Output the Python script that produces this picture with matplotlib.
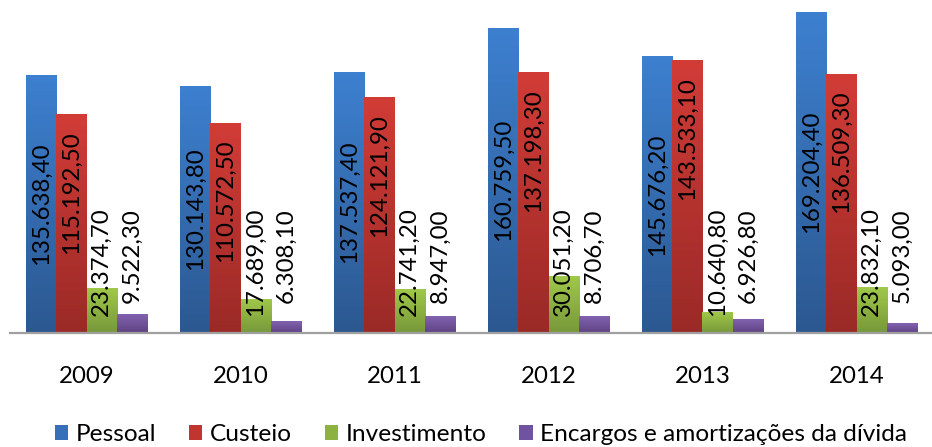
import numpy as np
import matplotlib
matplotlib.use('Agg')
import matplotlib.pyplot as plt
from matplotlib.colors import LinearSegmentedColormap
from matplotlib.patches import Patch

anos = ['2009', '2010', '2011', '2012', '2013', '2014']
pessoal = [135638.40, 130143.80, 137537.40, 160759.50, 145676.20, 169204.40]
custeio = [115192.50, 110572.50, 124121.90, 137198.30, 143533.10, 136509.30]
investimento = [23374.70, 17689.00, 22741.20, 30051.20, 10640.80, 23832.10]
encargos = [9522.30, 6308.10, 8947.00, 8706.70, 6926.80, 5093.00]
nomes = ['Pessoal', 'Custeio', 'Investimento', 'Encargos e amortizações da dívida']

# (cor do topo, cor da base) de cada serie
cores = [('#3D80D0', '#2C5890'),
         ('#D23C37', '#9A2A27'),
         ('#A0C84A', '#77983A'),
         ('#8262B0', '#5E4382')]
cor_legenda = ['#3670B8', '#C1352F', '#8DB240', '#7053A0']

plt.rcParams['font.family'] = ['Lato', 'DejaVu Sans']
fs = 17.3


def formata(v):
    s = '{:,.2f}'.format(v)
    return s.replace(',', 'X').replace('.', ',').replace('X', '.')


fig = plt.figure(figsize=(9.32, 4.47), dpi=100)
ax = fig.add_axes([9.5 / 932, 114.5 / 447, 924 / 932, 0.742])

series = [pessoal, custeio, investimento, encargos]
x = np.arange(len(anos))
w = 0.197
grad = np.linspace(1, 0, 256).reshape(-1, 1)

for i, vals in enumerate(series):
    pos = x + (i - 1.5) * w
    cmap = LinearSegmentedColormap.from_list('c%d' % i, [cores[i][1], cores[i][0]])
    bars = ax.bar(pos, vals, w, color=cores[i][0], linewidth=0, zorder=2)
    for b in bars:
        x0 = b.get_x()
        h = b.get_height()
        ax.imshow(grad, extent=[x0, x0 + w, 0, h], aspect='auto', cmap=cmap,
                  vmin=0, vmax=1, zorder=3)
    for xp, v in zip(pos, vals):
        txt = formata(v)
        if i == 0:
            ax.annotate(txt, (xp, v / 2), ha='center', va='center', rotation=90,
                        fontsize=fs, zorder=5)
        elif i == 1:
            ax.annotate(txt, (xp, v), xytext=(0, -17), textcoords='offset pixels',
                        ha='center', va='top', rotation=90, fontsize=fs, zorder=5)
        elif i == 2:
            ax.annotate(txt, (xp, 0), xytext=(0, 16), textcoords='offset pixels',
                        ha='center', va='bottom', rotation=90, fontsize=fs, zorder=5)
        else:
            ax.annotate(txt, (xp, 0), xytext=(0, 77), textcoords='offset pixels',
                        ha='center', va='center', rotation=90, fontsize=fs, zorder=5)

ax.set_xlim(-0.5, 5.5)
ax.set_ylim(0, 175000)
for s in ['top', 'right', 'left']:
    ax.spines[s].set_visible(False)
ax.spines['bottom'].set_color('#A0A0A0')
ax.spines['bottom'].set_linewidth(1.6)
ax.spines['bottom'].set_zorder(6)
ax.set_yticks([])
ax.set_xticks(x)
ax.set_xticklabels(anos, fontsize=fs)
ax.tick_params(axis='x', length=0, pad=24)

handles = [Patch(facecolor=c, edgecolor='none') for c in cor_legenda]
fig.legend(handles, nomes, loc='lower center', bbox_to_anchor=(0.516, -0.045), ncol=4,
           frameon=False, fontsize=fs + 0.3, handlelength=0.55, handleheight=0.55,
           handletextpad=0.3, columnspacing=1.35)

fig.savefig('out.png', dpi=100)
